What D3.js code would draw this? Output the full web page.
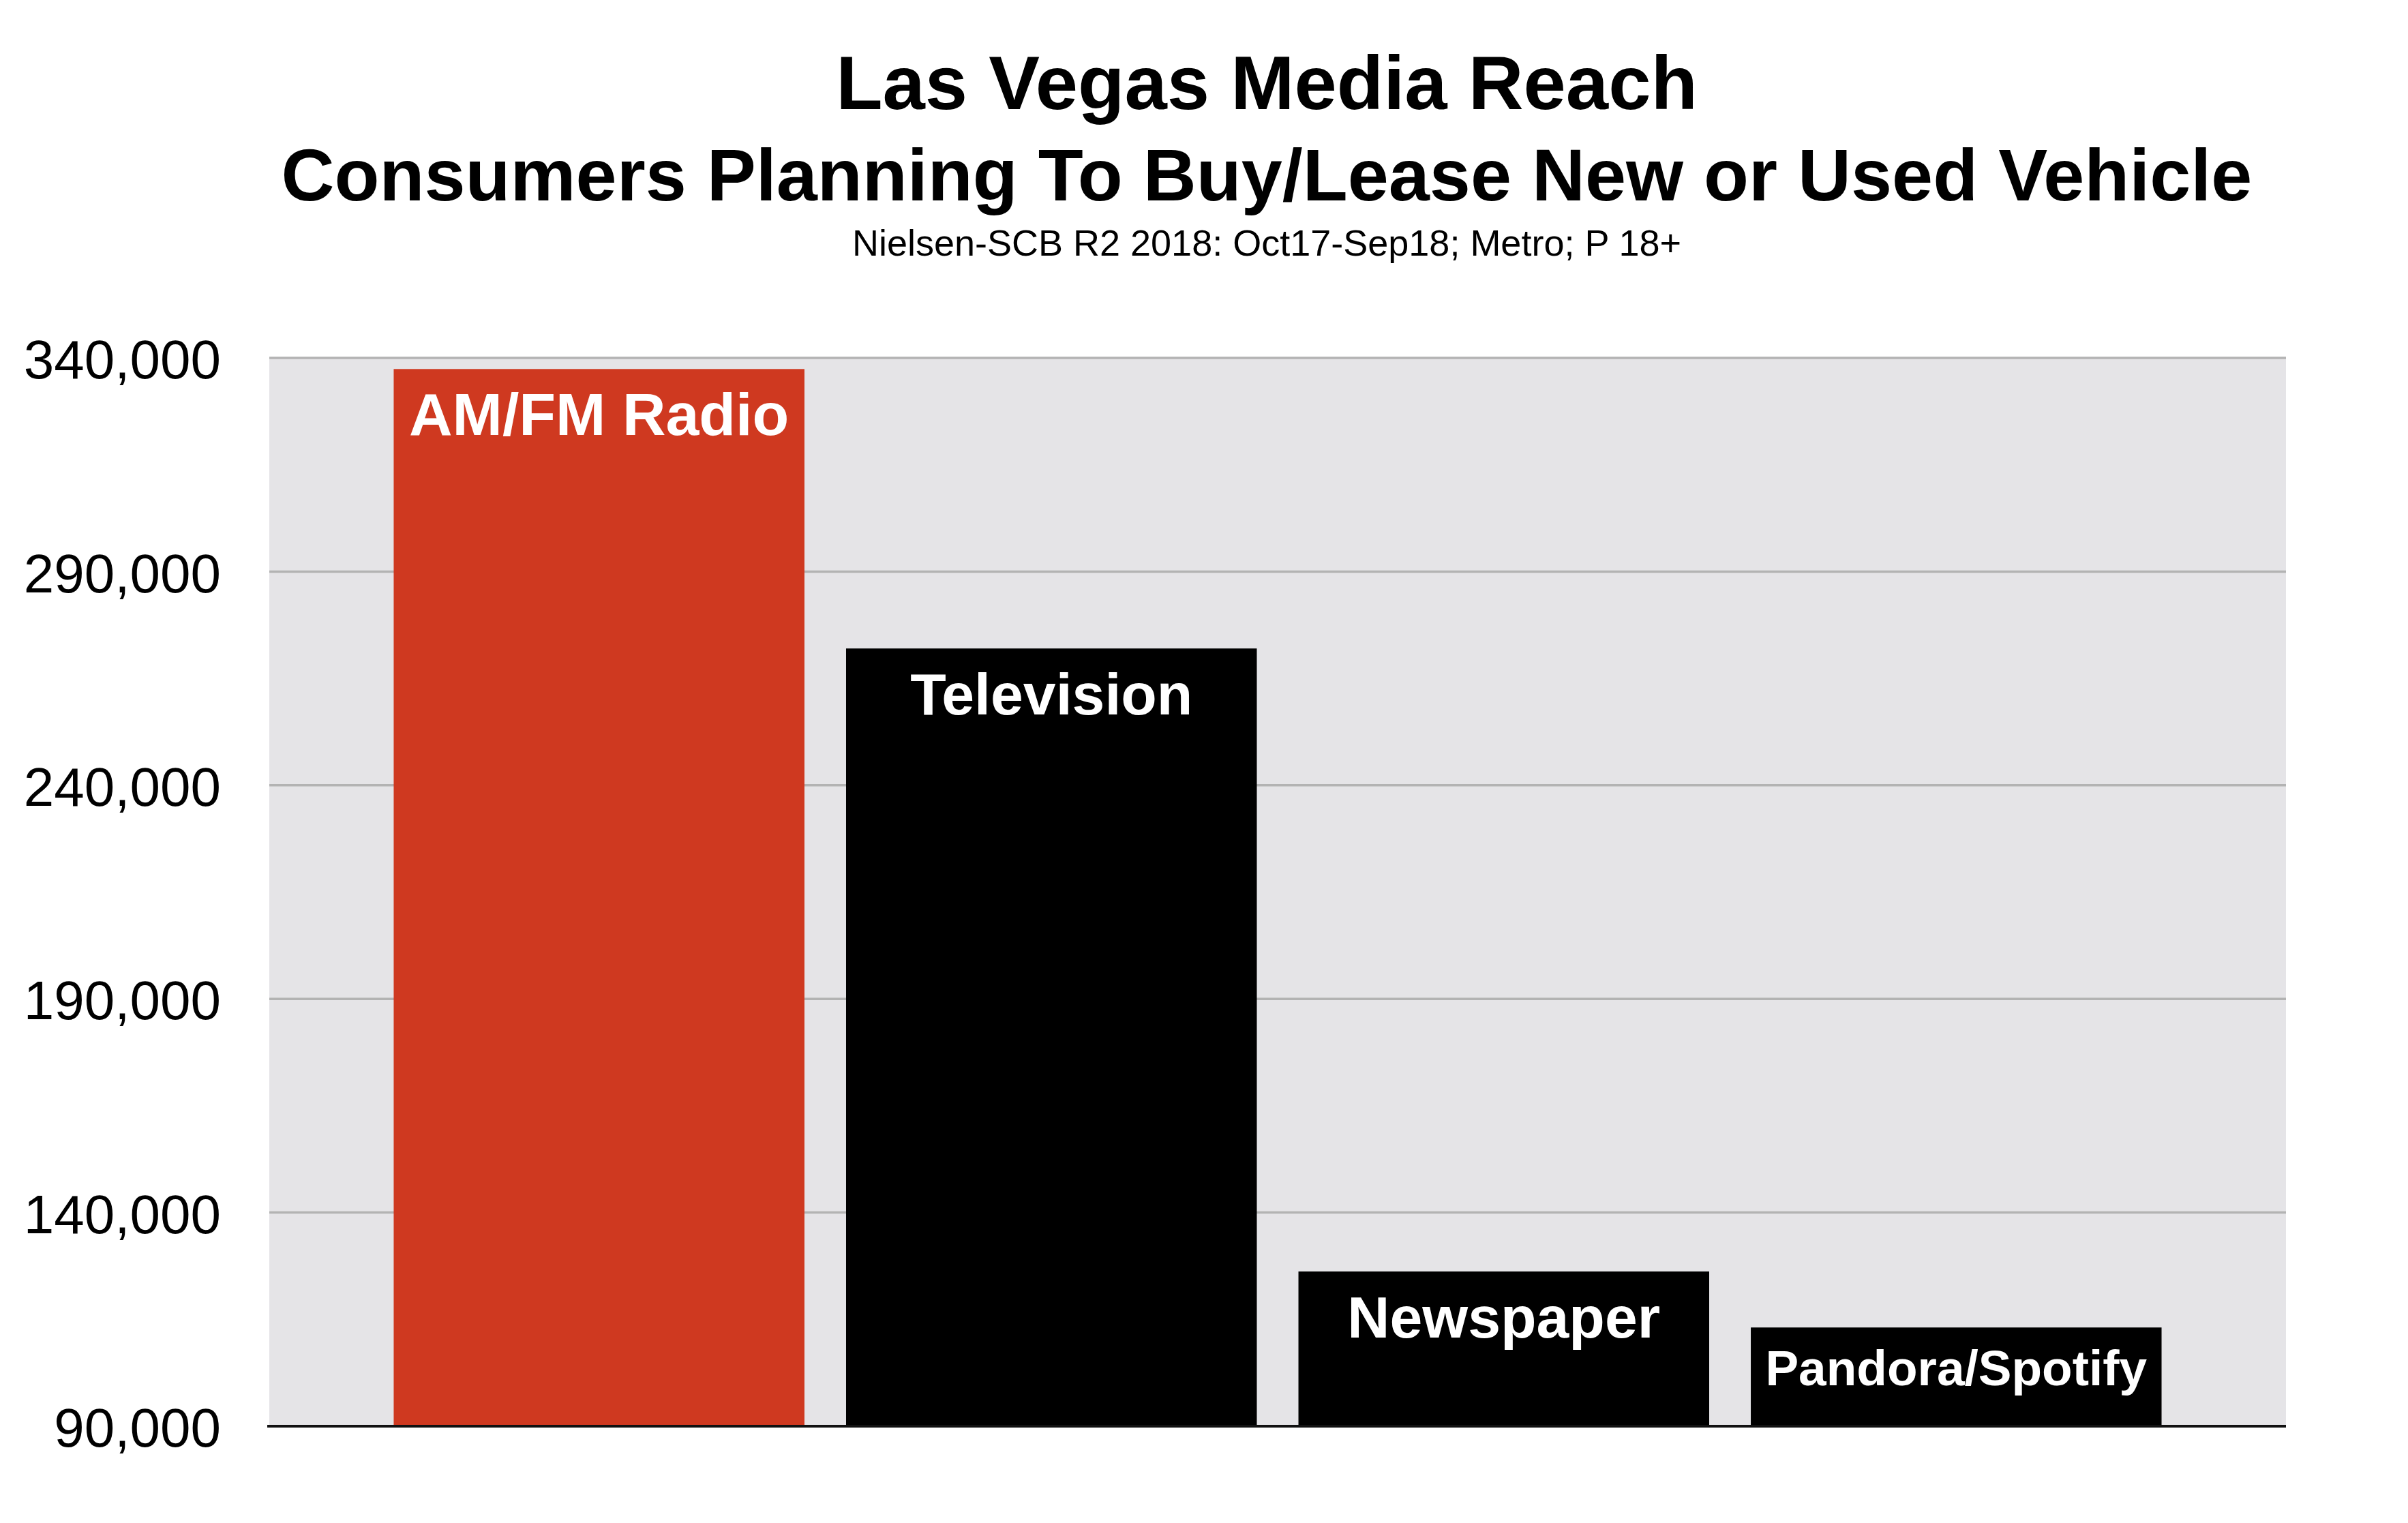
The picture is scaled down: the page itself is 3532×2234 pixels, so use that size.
<!DOCTYPE html>
<html>
<head>
<meta charset="utf-8">
<script src="https://cdn.jsdelivr.net/npm/d3@7"></script>
<style>
  html, body { margin: 0; padding: 0; background: #ffffff; }
  svg { display: block; }
  text { font-family: "Liberation Sans", Arial, Helvetica, sans-serif; }
</style>
</head>
<body>
<script>
// ---- data ----
const categories = ["AM/FM Radio", "Television", "Newspaper", "Pandora/Spotify"];
const values = [337400, 272000, 126200, 113100];
const barColors = ["#cf3920", "#000000", "#000000", "#000000"];
const tickValues = [90000, 140000, 190000, 240000, 290000, 340000];
const titleLines = ["Las Vegas Media Reach", "Consumers Planning To Buy/Lease New or Used Vehicle"];
const subtitle = "Nielsen-SCB R2 2018: Oct17-Sep18; Metro; P 18+";

// ---- layout ----
const W = 3532, H = 2234;
const plot = { left: 395, right: 3353, top: 525, bottom: 2092 };

const svg = d3.select("body").append("svg")
  .attr("width", W).attr("height", H);

const x = d3.scaleBand()
  .domain(categories)
  .range([plot.left, plot.right])
  .paddingInner(0.092)
  .paddingOuter(0.275);

const y = d3.scaleLinear()
  .domain([90000, 340000])
  .range([plot.bottom, plot.top]);

// plot background
svg.append("rect")
  .attr("x", plot.left).attr("y", plot.top)
  .attr("width", plot.right - plot.left)
  .attr("height", plot.bottom - plot.top)
  .attr("fill", "#e5e4e7");

// gridlines
svg.append("g").selectAll("line")
  .data(tickValues.filter(d => d !== 90000))
  .join("line")
  .attr("x1", plot.left).attr("x2", plot.right)
  .attr("y1", d => y(d)).attr("y2", d => y(d))
  .attr("stroke", "#b3b3b3").attr("stroke-width", 3.5);

// y axis labels
const yAxis = d3.axisLeft(y)
  .tickValues(tickValues)
  .tickFormat(d3.format(","))
  .tickSize(0)
  .tickPadding(0);
const gy = svg.append("g")
  .attr("transform", `translate(324,0)`)
  .call(yAxis);
gy.select(".domain").remove();
gy.selectAll("text")
  .attr("font-family", "'Liberation Sans', Arial, Helvetica, sans-serif")
  .attr("font-size", 80)
  .attr("fill", "#000")
  .attr("dy", "0.37em");

// bars
svg.append("g").selectAll("rect")
  .data(categories)
  .join("rect")
  .attr("x", d => x(d))
  .attr("y", (d, i) => y(values[i]))
  .attr("width", x.bandwidth())
  .attr("height", (d, i) => y(90000) - y(values[i]))
  .attr("fill", (d, i) => barColors[i]);

// bar labels
svg.append("g").selectAll("text")
  .data(categories)
  .join("text")
  .attr("x", d => x(d) + x.bandwidth() / 2)
  .attr("y", (d, i) => y(values[i]) + (d === "Pandora/Spotify" ? 85 : 97))
  .attr("text-anchor", "middle")
  .attr("font-weight", "bold")
  .attr("font-size", d => d === "Pandora/Spotify" ? 73 : (d === "AM/FM Radio" ? 88 : 86))
  .attr("fill", "#ffffff")
  .text(d => d);

// baseline axis line
svg.append("line")
  .attr("x1", plot.left - 3).attr("x2", plot.right)
  .attr("y1", y(90000)).attr("y2", y(90000))
  .attr("stroke", "#111").attr("stroke-width", 4);

// titles
const tx = 1858;
svg.append("text")
  .attr("x", tx).attr("y", 160)
  .attr("text-anchor", "middle")
  .attr("font-weight", "bold")
  .attr("font-size", 112)
  .attr("fill", "#000")
  .text(titleLines[0]);
svg.append("text")
  .attr("x", tx).attr("y", 294)
  .attr("text-anchor", "middle")
  .attr("font-weight", "bold")
  .attr("font-size", 108)
  .attr("fill", "#000")
  .text(titleLines[1]);
svg.append("text")
  .attr("x", tx).attr("y", 375)
  .attr("text-anchor", "middle")
  .attr("font-size", 54)
  .attr("fill", "#000")
  .text(subtitle);
</script>
</body>
</html>
